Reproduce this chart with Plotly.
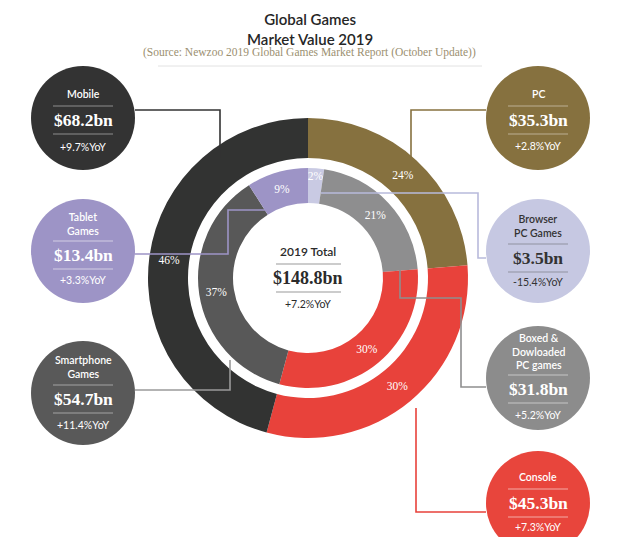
import plotly.graph_objects as go

# ---------------- data ----------------
outer_labels = ["PC", "Console", "Mobile"]
outer_values = [35.3, 45.3, 68.2]

inner_labels = ["Browser PC Games", "Boxed & Dowloaded PC games", "Console",
                "Smartphone Games", "Tablet Games"]
inner_values = [3.5, 31.8, 45.3, 54.7, 13.4]

callout_titles = [["Mobile"], ["Tablet", "Games"], ["Smartphone", "Games"],
                  ["PC"], ["Browser", "PC Games"], ["Boxed &", "Dowloaded", "PC games"],
                  ["Console"]]
callout_values = [68.2, 13.4, 54.7, 35.3, 3.5, 31.8, 45.3]
callout_yoy = [9.7, 3.3, 11.4, 2.8, -15.4, 5.2, 7.3]

total_value = 148.8
total_yoy = 7.2

title_lines = ["Global Games", "Market Value 2019"]
source_text = "(Source: Newzoo 2019 Global Games Market Report (October Update))"

# ---------------- styling / layout ----------------
W, H = 640, 537
def px(x): return x / W
def py(y): return 1 - y / H

CX, CY = 300, 270
R_OUT, R_OUT_IN = 160, 120
R_IN, R_IN_IN = 110, 75

outer_colors = ["#86713f", "#e8423b", "#323332"]
inner_colors = ["#c9cae3", "#8e8e8f", "#e8423b", "#585858", "#9d94c6"]

SERIF = "Liberation Serif"
SANS = "Lato"

pct_font = dict(family=SERIF, size=11.5, color="white")

fig = go.Figure()
fig.add_trace(go.Pie(
    labels=outer_labels, values=outer_values, hole=R_OUT_IN / R_OUT,
    sort=False, direction="clockwise", rotation=0,
    marker=dict(colors=outer_colors, line=dict(width=0)),
    texttemplate="%{percent:.0%}", textposition="inside",
    insidetextorientation="horizontal",
    textfont=pct_font, insidetextfont=pct_font,
    domain=dict(x=[px(CX - R_OUT), px(CX + R_OUT)], y=[py(CY + R_OUT), py(CY - R_OUT)]),
    showlegend=False, hoverinfo="label+value"))
fig.add_trace(go.Pie(
    labels=inner_labels, values=inner_values, hole=R_IN_IN / R_IN,
    sort=False, direction="clockwise", rotation=0,
    marker=dict(colors=inner_colors, line=dict(width=0)),
    texttemplate="%{percent:.0%}", textposition="inside",
    insidetextorientation="horizontal",
    textfont=pct_font, insidetextfont=pct_font,
    domain=dict(x=[px(CX - R_IN), px(CX + R_IN)], y=[py(CY + R_IN), py(CY - R_IN)]),
    showlegend=False, hoverinfo="label+value"))

shapes = []
annotations = []

def ann(text, x, y, size, color, family=SANS, weight=None):
    f = dict(family=family, size=size, color=color)
    if weight:
        f["weight"] = weight
    annotations.append(dict(text=text, x=px(x), y=py(y), xref="paper", yref="paper",
                            xanchor="center", yanchor="middle", showarrow=False, font=f))

def hline(x0, x1, y, color, width=1):
    shapes.append(dict(type="line", xref="paper", yref="paper", x0=px(x0), x1=px(x1),
                       y0=py(y), y1=py(y), line=dict(color=color, width=width), layer="above"))

def path(points, color, width=1.6):
    d = "M" + " L".join(f"{px(x)},{py(y)}" for x, y in points)
    shapes.append(dict(type="path", xref="paper", yref="paper", path=d,
                       line=dict(color=color, width=width), layer="above"))

# connector lines
path([(127, 102), (212, 102), (212, 150)], "#333333")
path([(127, 246), (220, 246), (220, 202), (258, 202)], "#9d94c6")
path([(127, 382), (222, 382), (222, 352)], "#9a9a9a")
path([(478, 102), (403, 102), (403, 150)], "#86713f")
path([(478, 250), (470, 250), (470, 185), (313, 185)], "#b8badb")
path([(478, 379), (453, 379), (453, 290), (392, 290), (392, 262)], "#8e8e8f")
path([(478, 504), (408, 504), (408, 400)], "#e8423b")

# callout circles: (cx, cy, fill, text color, line color, title_y, dollar_y, yoy_y)
callout_layout = [
    (75, 110, "#333333", "white", "rgba(255,255,255,0.45)", 86, 112, 139),
    (75, 243, "#9d94c6", "white", "rgba(255,255,255,0.55)", 216, 247, 272),
    (75, 385, "#595959", "white", "rgba(255,255,255,0.45)", 359, 391, 417),
    (530, 110, "#86713f", "white", "rgba(255,255,255,0.45)", 86, 112, 138),
    (530, 243, "#c6c8e2", "#333333", "rgba(80,80,80,0.45)", 218, 250, 274),
    (530, 370, "#8c8c8c", "white", "rgba(255,255,255,0.5)", 343, 381, 407),
    (530, 495, "#e8453c", "white", "rgba(255,255,255,0.55)", 469, 495, 519),
]
R_C = 52
for i, (cx, cy, fill, tc, lc, ty, dy, yy) in enumerate(callout_layout):
    shapes.append(dict(type="circle", xref="paper", yref="paper",
                       x0=px(cx - R_C), x1=px(cx + R_C), y0=py(cy + R_C), y1=py(cy - R_C),
                       fillcolor=fill, line=dict(width=0), layer="above"))
    ann("<br>".join(callout_titles[i]), cx, ty, 10.5, tc, weight=600)
    hline(cx - 30, cx + 30, dy - 14, lc)
    hline(cx - 30, cx + 30, dy + 14, lc)
    ann(f"${callout_values[i]}bn", cx, dy, 17.5, tc, family=SERIF, weight="bold")
    ann(f"{callout_yoy[i]:+.1f}%YoY", cx, yy, 10.5, tc)

# center text
ann("2019 Total", 300, 244, 12, "#2b2b2b", weight=600)
hline(268, 333, 256, "#999999")
ann(f"${total_value}bn", 300, 270, 18, "#2b2b2b", family=SERIF, weight="bold")
hline(268, 333, 284, "#999999")
ann(f"{total_yoy:+.1f}%YoY", 300, 296, 10.5, "#2b2b2b")

# title block
ann("<br>".join(title_lines), 302, 21, 15, "#262626", family=SANS, weight=600)
ann(source_text, 301, 45, 11.5, "#9b8f70", family=SERIF)
hline(150, 474, 58, "#e2e2e2")
hline(216, 420, 535, "#b9a877", 1.5)

fig.update_layout(
    width=W, height=H, margin=dict(l=0, r=0, t=0, b=0),
    paper_bgcolor="white", plot_bgcolor="white",
    shapes=shapes, annotations=annotations,
    uniformtext=dict(minsize=11.5, mode="show"),
    showlegend=False,
)
fig.write_html("out.html")
